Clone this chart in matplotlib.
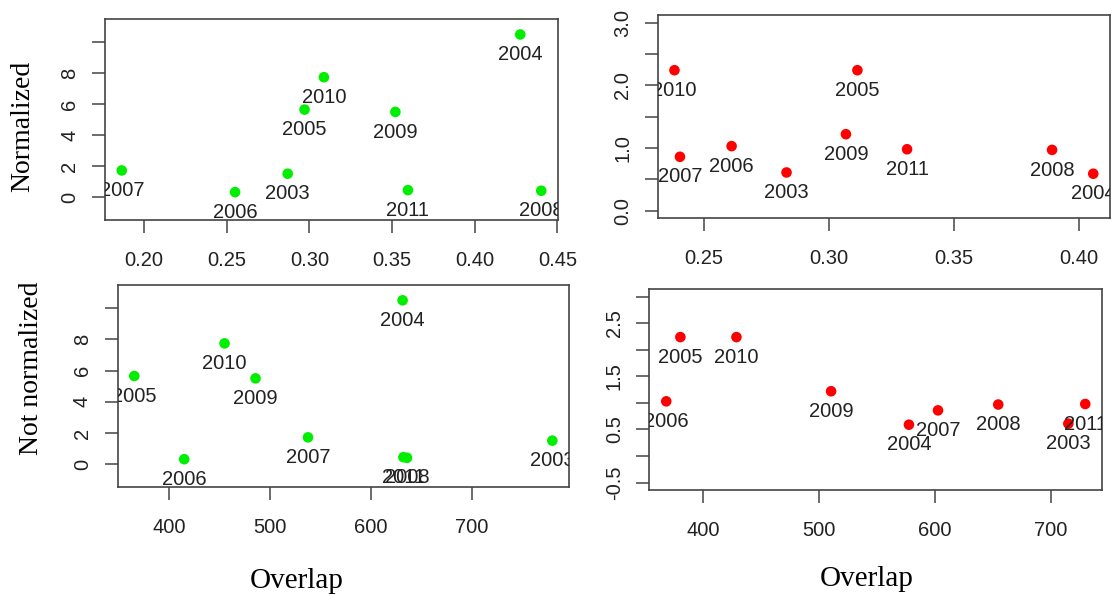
import matplotlib
matplotlib.use("Agg")
import matplotlib.pyplot as plt
import matplotlib.transforms as mtransforms

# Years labelling every point
years = ["2003", "2004", "2005", "2006", "2007", "2008", "2009", "2010", "2011"]

# Normalized overlap (top row) and raw overlap (bottom row)
norm_overlap_green = [0.2869, 0.4275, 0.2971, 0.2551, 0.1866, 0.4402, 0.3520, 0.3088, 0.3596]
norm_overlap_red = [0.2830, 0.4059, 0.3114, 0.2610, 0.2403, 0.3894, 0.3068, 0.2381, 0.3313]
raw_overlap_green = [779.6, 631.2, 365.2, 414.7, 537.4, 635.6, 485.4, 454.7, 632.0]
raw_overlap_red = [715.3, 577.7, 380.4, 368.2, 602.8, 654.8, 510.5, 428.8, 729.9]

# Response values (shared by both rows)
green_values = [1.51, 10.5, 5.65, 0.32, 1.72, 0.41, 5.50, 7.74, 0.45]
red_values = [0.61, 0.59, 2.24, 1.03, 0.86, 0.97, 1.22, 2.24, 0.98]

# Axis ticks
green_yticks = [0, 2, 4, 6, 8, 10]
green_yticklabels = ["0", "2", "4", "6", "8", ""]
red_top_yticks = [0.0, 0.5, 1.0, 1.5, 2.0, 2.5, 3.0]
red_top_yticklabels = ["0.0", "", "1.0", "", "2.0", "", "3.0"]
red_bot_yticks = [-0.5, 0.0, 0.5, 1.0, 1.5, 2.0, 2.5, 3.0]
red_bot_yticklabels = ["-0.5", "", "0.5", "", "1.5", "", "2.5", ""]
norm_green_xticks = [0.20, 0.25, 0.30, 0.35, 0.40, 0.45]
norm_red_xticks = [0.25, 0.30, 0.35, 0.40]
raw_xticks = [400, 500, 600, 700]

SANS = "Liberation Sans"
SERIF = "Liberation Serif"
TXT = "#222222"
FRAME = "#444444"

fig = plt.figure(figsize=(11.11, 5.98), dpi=100)


def r_range(lo, hi):
    pad = 0.04 * (hi - lo)
    return lo - pad, hi + pad


def panel(rect, xs, ys, color, xticks, xfmt, yticks, yticklabels, ylim):
    ax = fig.add_axes(rect)
    ax.set_xlim(*r_range(min(xs), max(xs)))
    ax.set_ylim(*r_range(*ylim))
    ax.scatter(xs, ys, s=58, color=color, edgecolors="none", zorder=3)
    below = mtransforms.offset_copy(ax.transData, fig=fig, x=0, y=-14.5, units="points")
    for x, y, lab in zip(xs, ys, years):
        ax.text(x, y, lab, transform=below, ha="center", va="center",
                fontsize=14.5, family=SANS, color=TXT, clip_on=True, zorder=4)
    ax.set_xticks(xticks)
    ax.set_xticklabels([xfmt.format(v) for v in xticks])
    ax.set_yticks(yticks)
    ax.set_yticklabels(yticklabels)
    ax.tick_params(axis="both", length=9.5, width=1.1, color=FRAME,
                   labelsize=14.5, labelcolor=TXT)
    ax.tick_params(axis="x", pad=12.5)
    ax.tick_params(axis="y", pad=9)
    for lab in ax.get_xticklabels() + ax.get_yticklabels():
        lab.set_family(SANS)
    for lab in ax.get_yticklabels():
        lab.set_rotation(90)
        lab.set_va("center")
    for sp in ax.spines.values():
        sp.set_color(FRAME)
        sp.set_linewidth(1.2)
    return ax


panel([0.0945, 0.6321, 0.4078, 0.3356], norm_overlap_green, green_values, "#00ee00",
      norm_green_xticks, "{:.2f}", green_yticks, green_yticklabels, (-1, 11))
panel([0.5920, 0.6350, 0.4071, 0.3399], norm_overlap_red, red_values, "#ff0000",
      norm_red_xticks, "{:.2f}", red_top_yticks, red_top_yticklabels, (0, 3))
panel([0.1058, 0.1851, 0.4064, 0.3383], raw_overlap_green, green_values, "#00ee00",
      raw_xticks, "{:d}", green_yticks, green_yticklabels, (-1, 11))
panel([0.5846, 0.1806, 0.4073, 0.3356], raw_overlap_red, red_values, "#ff0000",
      raw_xticks, "{:d}", red_bot_yticks, red_bot_yticklabels, (-0.5, 3))

fig.text(0.0207, 0.789, "Normalized", rotation=90, ha="center", va="center",
         family=SERIF, fontsize=20, color="black")
fig.text(0.0288, 0.3846, "Not normalized", rotation=90, ha="center", va="center",
         family=SERIF, fontsize=20, color="black")
fig.text(0.2673, 0.028, "Overlap", ha="center", va="center",
         family=SERIF, fontsize=21, color="black")
fig.text(0.780, 0.032, "Overlap", ha="center", va="center",
         family=SERIF, fontsize=21, color="black")

fig.savefig("out.png", dpi=100)
